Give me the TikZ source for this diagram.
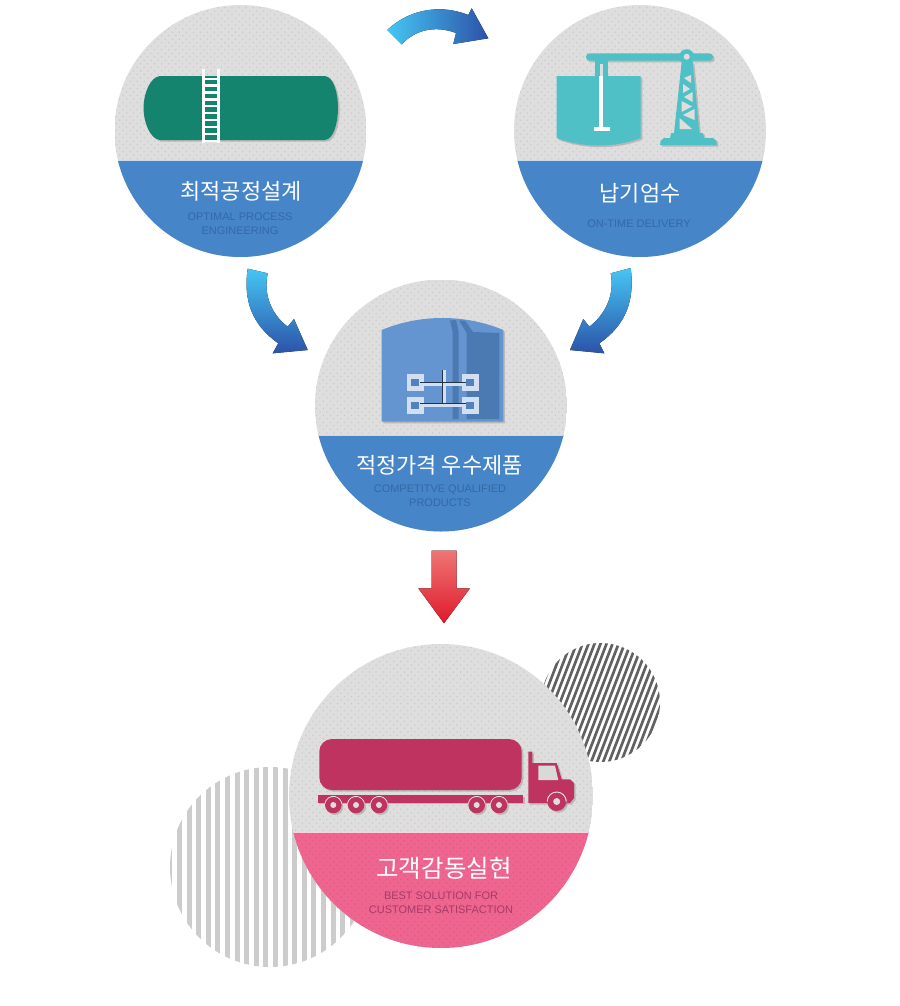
\documentclass[tikz,border=0pt]{standalone}
\usepackage{fontspec}
\setmainfont{Liberation Sans}
\newfontfamily\korfont{Noto Sans CJK KR}
\usetikzlibrary{patterns,shadows}

\definecolor{bubblegray}{HTML}{DFDEDE}
\definecolor{dotgray}{HTML}{CBC7C8}
\definecolor{bandblue}{HTML}{4585C8}
\definecolor{bandpink}{HTML}{EE668F}
\definecolor{dotpink}{HTML}{E2577F}
\definecolor{inkblue}{HTML}{3568A8}
\definecolor{inkpink}{HTML}{A83A67}
\definecolor{tankgreen}{HTML}{14846F}
\definecolor{tankteal}{HTML}{4FC1C6}
\definecolor{tankblue}{HTML}{6595D1}
\definecolor{tankdark}{HTML}{4B79B1}
\definecolor{truckred}{HTML}{BE3360}
\definecolor{arrowsky}{HTML}{45C6F3}
\definecolor{arrowblue}{HTML}{2C52A8}
\definecolor{arrowrose}{HTML}{EF7575}
\definecolor{arrowred}{HTML}{DE1A2B}

\pgfdeclarepatternformonly{bubbledots}{\pgfqpoint{-1pt}{-1pt}}{\pgfqpoint{4pt}{4pt}}{\pgfqpoint{5pt}{5pt}}{%
	\pgfpathcircle{\pgfqpoint{0pt}{0pt}}{0.55pt}
	\pgfpathcircle{\pgfqpoint{2.5pt}{2.5pt}}{0.55pt}
	\pgfusepath{fill}}

\tikzset{
	titletext/.style={text=white, font=\korfont\fontsize{15.6}{18}\selectfont},
	engtext/.style={align=center, font=\fontsize{7.8}{10}\selectfont},
	iconshadow/.style={drop shadow={shadow xshift=1.2pt, shadow yshift=-1.2pt, fill=black!45, opacity=0.45}},
	skyarrow/.style={top color=arrowsky, bottom color=arrowblue}
}

% center x, center y, radius, band top, band colour
\newcommand{\bubble}[5]{%
	\begin{scope}
		\clip (#1,#2) circle (#3);
		\fill[bubblegray] (#1-#3,#2-#3) rectangle (#1+#3,#2+#3);
		\fill[pattern=bubbledots, pattern color=dotgray] (#1-#3,#2-#3) rectangle (#1+#3,#4);
		\fill[#5] (#1-#3,#4) rectangle (#1+#3,#2+#3);
		\draw[white!70!#5, thin] (#1-#3,#4) -- (#1+#3,#4);
	\end{scope}}

\begin{document}
\begin{tikzpicture}[x=0.025cm, y=-0.025cm]
	\useasboundingbox (0,0) rectangle (900,1006);

	% Arrows between the circles
	\fill[left color=arrowsky, right color=arrowblue] (387.3,30) .. controls (405,13) and (435,2) .. (468.3,15) -- (471.7,8.3) -- (488.3,38.3) -- (453.3,44) -- (456,33) .. controls (435,25) and (415,30) .. (401.7,44.3) -- cycle;
	\fill[skyarrow] (247.7,268.7) .. controls (243,300) and (252,325) .. (278.3,343.3) -- (272.7,353.3) -- (307.7,350) -- (294,319) -- (287.7,326.7) .. controls (272,315) and (263,295) .. (267.7,273.3) -- cycle;
	\fill[skyarrow] (630.7,268) .. controls (635,300) and (626,325) .. (599.3,343.3) -- (604.3,353.3) -- (570,350) -- (583.3,319) -- (589.3,326.7) .. controls (605,315) and (615,295) .. (610.7,273.3) -- cycle;
	\fill[top color=arrowrose, bottom color=arrowred] (431.7,550.7) -- (456.7,550.7) -- (456.7,588.3) -- (470,588.3) -- (444,623.3) -- (418.3,588.3) -- (431.7,588.3) -- cycle;

	% Striped circles behind the last one
	\begin{scope}
		\clip (270,867) circle (100);
		\foreach \k in {0,...,11}
			\fill[black!20] (282.5+9.6*\k,767) rectangle (287.5+9.6*\k,967);
		\foreach \k in {1,...,12}
			\fill[black!20] (282.5-9.6*\k,767) rectangle (287.5-9.6*\k,967);
	\end{scope}
	\begin{scope}
		\clip (600.5,702.5) circle (59.5);
		\foreach \k in {0,...,36}
			\draw[black!62, line width=1.9pt] (480+6*\k,770) -- (530+6*\k,640);
	\end{scope}

	% Circles
	\bubble{240.5}{131}{126}{160.7}{bandblue}
	\bubble{640}{131}{126}{160.5}{bandblue}
	\bubble{441}{405.5}{126}{435}{bandblue}
	\bubble{441}{796}{152}{832}{bandpink}
	\begin{scope}
		\clip (441,796) circle (152);
		\fill[pattern=bubbledots, pattern color=dotpink] (289,832) rectangle (593,948);
	\end{scope}

	% Green tank and ladder
	\fill[tankgreen, iconshadow] (160,76) -- (325,76) .. controls (334,77) and (338,94) .. (338,108) .. controls (338,122) and (334,139) .. (325,140) -- (160,140) .. controls (150,139) and (143.5,122) .. (143.5,108) .. controls (143.5,94) and (150,77) .. (160,76) -- cycle;
	\fill[white] (202,69) rectangle (205,143);
	\fill[white] (216.5,69) rectangle (219.5,143);
	\foreach \k in {0,...,9}
		\fill[white] (204,77.5+6.9*\k) rectangle (217,79.8+6.9*\k);

	% Teal tank and crane
	\fill[tankteal, iconshadow, rounded corners=2.5pt] (586,53.3) rectangle (713,60.7);
	\fill[tankteal] (595,60) rectangle (608.3,76);
	\fill[bubblegray] (599.5,64) rectangle (602.7,76);
	\fill[tankteal, iconshadow] (556.7,76) -- (640.7,76) -- (640.7,138) .. controls (615,148) and (582,148) .. (556.7,138) -- cycle;
	\fill[white] (599.3,76) rectangle (602.7,127);
	\fill[white] (594.3,126.7) rectangle (610,130.7);
	\fill[tankteal, iconshadow] (681.7,62) -- (692.7,62) -- (699.3,133) -- (703,133) -- (704,138) -- (713,138) .. controls (716,139) and (717.5,142) .. (716.7,145) -- (660,145) .. controls (659.5,142) and (661,139) .. (664,138) -- (670,138) -- (671,133) -- (674,133) -- cycle;
	\fill[tankteal] (686.7,56.7) circle (7.5);
	\fill[bubblegray] (686.7,56.7) circle (3);
	\fill[bubblegray] (684,78) -- (691,75) -- (691,83) -- cycle;
	\fill[bubblegray] (683,84) -- (683,93) -- (690,89) -- cycle;
	\fill[bubblegray] (692.5,92) -- (692.5,102) -- (684,97) -- cycle;
	\fill[bubblegray] (681.5,101) -- (681.5,112) -- (692,106.5) -- cycle;
	\fill[bubblegray] (694.5,109) -- (694.5,120) -- (683,115) -- cycle;
	\fill[bubblegray] (679.5,118) -- (679.5,129) -- (692,129) -- cycle;

	% Blue tank and stirrer
	\fill[tankblue, iconshadow] (381.7,330) .. controls (420,314) and (465,314) .. (503.3,330) -- (503.3,421.7) -- (381.7,421.7) -- cycle;
	\fill[tankdark] (450,320.5) -- (456,320) -- (458.5,331) -- (458.5,419) -- (452.7,419) -- (452.7,332) -- cycle;
	\fill[tankdark] (459,320.5) -- (465,320.5) -- (473,332) -- (499.3,333) -- (499.3,419) -- (466.7,419) -- (466.7,333) -- cycle;
	\foreach \x/\y in {406.7/374,461.7/374,406.7/397,461.7/397} {
		\fill[white!70!tankblue] (\x,\y) rectangle (\x+17,\y+16.5);
		\fill[tankdark!70!tankblue] (\x+4.6,\y+4.6) rectangle (\x+12.4,\y+12);
	}
	\fill[white!70!tankblue] (420,383) rectangle (465,386);
	\fill[white!70!tankblue] (420,404) rectangle (465,407);
	\fill[white!70!tankblue] (443,370) rectangle (445.5,405);
	\draw[black!65!tankblue, line width=1pt] (442.7,370) -- (442.7,403.5);
	\draw[black!65!tankblue, line width=1pt] (420,382.3) -- (465.7,382.3);
	\draw[black!65!tankblue, line width=1pt] (420,403.5) -- (465.7,403.5);

	% Truck
	\fill[truckred, iconshadow, rounded corners=9pt] (319.3,739) rectangle (521.7,790);
	\fill[truckred, iconshadow] (317.7,795) rectangle (523.3,802.7);
	\foreach \x in {333.3,356,379,476.7,499} {
		\fill[truckred, iconshadow] (\x,805) circle (8.3);
		\draw[white!80!truckred, line width=0.6pt] (\x,805) ++(190:8.6) arc (190:350:8.6);
		\fill[bubblegray] (\x,805) circle (3);
	}
	\fill[truckred, iconshadow] (528.3,751.7) -- (532.3,751.7) -- (532.3,763) -- (556.7,763) -- (561.7,779.3) -- (570,779.3) -- (574,783) -- (574,798) -- (570,803) -- (528.3,803) -- cycle;
	\fill[white!85!black] (538.3,765.7) -- (555,765.7) -- (558.3,780) -- (538.3,780) -- cycle;
	\fill[truckred, iconshadow] (556.7,801.5) circle (9.5);
	\draw[white!80!truckred, line width=0.7pt] (556.7,801.5) ++(180:9.5) arc (180:360:9.5);
	\fill[bubblegray] (556.7,801.5) circle (3.5);

	% Labels
	\node[titletext] (optimaltitle) at (241,191) {최적공정설계};
	\node[engtext, text=inkblue] (optimaltext) at (240,224) {OPTIMAL PROCESS\\ENGINEERING};
	\node[titletext] (deliverytitle) at (640,193) {납기엄수};
	\node[engtext, text=inkblue] (deliverytext) at (639,224) {ON-TIME DELIVERY};
	\node[titletext] (qualitytitle) at (439.5,465) {적정가격 우수제품};
	\node[engtext, text=inkblue] (qualitytext) at (440,496) {COMPETITVE QUALIFIED\\PRODUCTS};
	\node[titletext, font=\korfont\fontsize{17.4}{20}\selectfont] (customertitle) at (444,868) {고객감동실현};
	\node[engtext, text=inkpink] (customertext) at (441,903) {BEST SOLUTION FOR\\CUSTOMER SATISFACTION};
\end{tikzpicture}
\end{document}
